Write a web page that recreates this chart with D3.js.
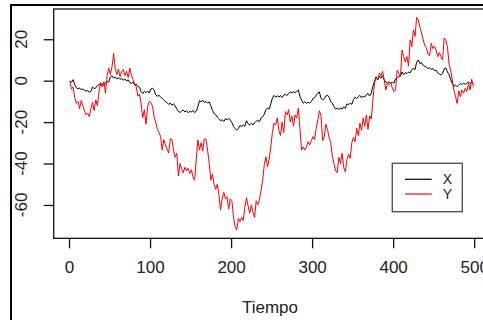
<!DOCTYPE html>
<html>
<head>
<meta charset="utf-8">
<script src="https://cdn.jsdelivr.net/npm/d3@7"></script>
<style>
  html, body { margin: 0; padding: 0; background: #fff; }
  svg { display: block; }
  text { font-family: "Liberation Sans", Arial, sans-serif; fill: #222; }
</style>
</head>
<body>
<svg id="chart" width="483" height="320"></svg>
<script>
// Two random-walk series sampled every 2 steps (t = 1, 3, 5, ..., 499)
const serieX = [
  0, -0.8, 0.5, -1.8, -3.4,
  -3.9, -3.5, -4.4, -4.0, -4.6,
  -5.1, -4.7, -5.6, -5.2, -3.0,
  -3.9, -3.5, -2.4, -1.8, -2.3,
  -1.6, -2.2, -0.9, -0.4, -0.7,
  1.8, 2.4, 1.3, 1.7, 0.9,
  1.4, 0.6, 1.1, 0.2, 0.8,
  -0.2, 0.4, -0.9, -1.4, -0.6,
  -2.1, -1.7, -2.8, -3.2, -5.3,
  -6.2, -5.1, -5.8, -5.0, -6.0,
  -4.0, -3.6, -4.6, -6.9, -7.5,
  -7.1, -7.8, -8.6, -9.4, -10.1,
  -10.6, -11.5, -10.8, -11.9, -11.2,
  -12.3, -13.6, -14.9, -15.3, -14.6,
  -14.2, -15.1, -14.4, -15.5, -14.8,
  -15.2, -14.3, -15.4, -14.7, -12.6,
  -9.6, -10.2, -9.4, -10.6, -10.1,
  -10.7, -10.3, -12.1, -14.3, -15.9,
  -16.4, -17.6, -18.3, -19.4, -18.8,
  -19.7, -18.4, -18.9, -18.1, -19.0,
  -20.3, -22.1, -23.2, -23.9, -23.1,
  -21.6, -22.2, -21.4, -22.0, -19.3,
  -20.8, -21.3, -20.6, -21.4, -20.4,
  -19.6, -19.2, -19.8, -18.0, -17.4,
  -16.2, -14.0, -13.2, -13.8, -11.2,
  -8.4, -7.1, -8.0, -7.3, -7.9,
  -7.2, -8.1, -7.0, -6.6, -7.2,
  -6.1, -5.4, -5.9, -5.3, -5.8,
  -5.2, -4.5, -7.6, -9.4, -10.9,
  -10.2, -11.0, -10.4, -10.9, -10.1,
  -8.6, -8.2, -7.1, -6.0, -5.4,
  -8.6, -9.3, -8.7, -7.4, -7.0,
  -8.0, -10.2, -10.9, -12.6, -13.8,
  -13.2, -14.0, -13.1, -13.8, -12.7,
  -13.4, -11.2, -11.6, -10.9, -11.4,
  -9.2, -8.0, -8.7, -7.8, -7.1,
  -8.3, -7.4, -7.9, -6.8, -6.2,
  -7.4, -6.0, -2.8, -0.2, 1.8,
  0.4, 2.2, 1.2, 2.4, 0.3,
  -0.6, -1.2, -0.5, -1.3, -0.8,
  -1.2, 0.9, 1.4, 1.9, 2.4,
  4.2, 2.9, 3.9, 3.4, 4.2,
  3.8, 5.4, 5.9, 5.3, 8.9,
  10.0, 8.2, 8.7, 7.4, 7.0,
  6.6, 5.8, 6.3, 5.4, 5.9,
  4.8, 5.1, 3.9, 3.2, 2.8,
  3.4, 5.8, 6.1, 4.2, 2.9,
  0.6, -1.4, -2.8, -2.1, -2.9,
  -2.2, -1.4, -1.9, -1.1, -1.8,
  -1.2, -0.6, -1.4, -0.7, -1.2
];

const serieY = [
  -0.3, -4, -3, -8, -11,
  -10, -13.5, -9.6, -12, -14.5,
  -16.5, -15.8, -17.4, -13.5, -10.4,
  -14.5, -9.3, -12, -5.3, -0.8,
  -3, -0.5, -6, 2.5, 6,
  3, 6.5, 13.2, 6, 3,
  5.5, 2, 4.5, 5.4, 2.5,
  4.5, 1.5, 6.1, 2.5, 0.5,
  -1.6, -3, -7.5, -6.5, -11.4,
  -17.8, -14, -21, -12.5, -10,
  -10.5, -12.3, -17.5, -20, -23.5,
  -25, -27, -33.5, -28.5, -31,
  -33, -35, -28, -28.6, -33.5,
  -37, -35, -46, -40, -42.5,
  -44.5, -41.8, -43.5, -42.3, -44.8,
  -43, -46.5, -48, -38, -28.6,
  -33.5, -30, -34, -28, -28.3,
  -33.5, -40, -48, -45, -50,
  -52.5, -50, -55, -62.5, -57,
  -54, -57, -56, -62, -57,
  -58, -66, -70.5, -72, -66.5,
  -68, -66, -67.5, -61, -56.5,
  -60.5, -64, -60, -63.5, -66,
  -58, -60, -57.5, -53, -48,
  -40.5, -36.7, -41.5, -38, -32,
  -25, -20.5, -21.4, -18, -24,
  -26.5, -20, -25, -15, -16.6,
  -14, -20, -17, -22, -16.5,
  -18, -13.3, -23, -33.5, -32,
  -33.5, -32, -29.5, -31, -29,
  -27, -28.5, -23, -19, -14.5,
  -17, -29, -27, -21, -23.5,
  -27.5, -30, -36.5, -40, -43.5,
  -44.5, -37, -40, -35, -42,
  -44, -38, -35.5, -37.5, -30,
  -27.5, -29.5, -23, -26.5, -20.5,
  -24, -18, -22, -16.5, -23.5,
  -17, -18.5, -9.5, -1.3, 2,
  0.5, 3.6, 2.3, 4.5, 0.3,
  -4.5, -1.2, -2, -1, -3.5,
  -5.3, -4.5, 5, 3.5, 2,
  14.8, 11.6, 9, 11.6, 7,
  19.7, 16.4, 24.5, 21.3, 30.5,
  29.3, 26, 23, 20, 17,
  16, 13, 12, 18, 15.5,
  16.5, 14.8, 11.6, 13.5, 11.6,
  10, 20.6, 19.7, 16.4, 8,
  5, 0.3, -4.5, -7.7, -11,
  -5, -7.7, -4.5, -6, -3.7,
  -5.2, -1.3, -4.5, 0.7, -2.9
];

const tiempo = d3.range(1, 500, 2);          // time index of each sample
const xTicks = [0, 100, 200, 300, 400, 500];
const yTicks = [-60, -40, -20, 0, 20];
const seriesNames = ["X", "Y"];
const seriesColors = ["#000000", "#ff0000"];
const xLabel = "Tiempo";

// plot region (device box of the plotting area)
const plot = { left: 53.7, top: 9, right: 489.5, bottom: 238.3 };

const svg = d3.select("#chart");

// outer frame
svg.append("path")
  .attr("d", "M11,330 L11,5 L495,5")
  .attr("fill", "none")
  .attr("stroke", "#000")
  .attr("stroke-width", 2);

// axis ranges padded by 4% on each side
const tExt = d3.extent(tiempo);
const tPad = (tExt[1] - tExt[0]) * 0.04;
const vExt = d3.extent(serieX.concat(serieY));
const vPad = (vExt[1] - vExt[0]) * 0.04;

const x = d3.scaleLinear()
  .domain([tExt[0] - tPad, tExt[1] + tPad])
  .range([plot.left, plot.right]);
const y = d3.scaleLinear()
  .domain([vExt[0] - vPad, vExt[1] + vPad])
  .range([plot.bottom, plot.top]);

// series lines
const line = d3.line()
  .x((d, i) => x(tiempo[i]))
  .y(d => y(d));

[serieX, serieY].forEach((s, k) => {
  svg.append("path")
    .datum(s)
    .attr("fill", "none")
    .attr("stroke", seriesColors[k])
    .attr("stroke-width", 1)
    .attr("stroke-linejoin", "round")
    .attr("d", line);
});

// plot box
svg.append("rect")
  .attr("x", plot.left)
  .attr("y", plot.top)
  .attr("width", plot.right - plot.left)
  .attr("height", plot.bottom - plot.top)
  .attr("fill", "none")
  .attr("stroke", "#111")
  .attr("stroke-width", 1.3);

// x axis
const gx = svg.append("g")
  .attr("transform", `translate(0,${plot.bottom})`)
  .call(d3.axisBottom(x).tickValues(xTicks).tickSize(10).tickPadding(13).tickFormat(d3.format("d")));
gx.select(".domain").remove();
gx.selectAll(".tick line").attr("stroke", "#111").attr("stroke-width", 1.3);
gx.selectAll(".tick text")
  .attr("font-size", 17)
  .attr("font-family", "'Liberation Sans', Arial, sans-serif")
  .attr("fill", "#222");

// y axis (labels rotated, parallel to the axis)
const gy = svg.append("g")
  .attr("transform", `translate(${plot.left},0)`)
  .call(d3.axisLeft(y).tickValues(yTicks).tickSize(10).tickFormat(""));
gy.select(".domain").remove();
gy.selectAll(".tick line").attr("stroke", "#111").attr("stroke-width", 1.3);

svg.append("g").selectAll("text")
  .data(yTicks)
  .join("text")
  .attr("transform", d => `translate(27,${y(d)}) rotate(-90)`)
  .attr("text-anchor", "middle")
  .attr("font-size", 17)
  .text(d => d);

// x axis title
svg.append("text")
  .attr("x", 270)
  .attr("y", 313)
  .attr("text-anchor", "middle")
  .attr("font-size", 17)
  .text(xLabel);

// legend
const legend = svg.append("g").attr("transform", "translate(392.3,163.3)");
legend.append("rect")
  .attr("width", 70)
  .attr("height", 48.4)
  .attr("fill", "#fff")
  .attr("stroke", "#555")
  .attr("stroke-width", 1.4);
seriesNames.forEach((name, k) => {
  const ly = 16 + k * 14.7;
  legend.append("line")
    .attr("x1", 12.7).attr("x2", 39.4)
    .attr("y1", ly).attr("y2", ly)
    .attr("stroke", seriesColors[k])
    .attr("stroke-width", 1.2);
  legend.append("text")
    .attr("x", 50.5)
    .attr("y", ly + 5)
    .attr("font-size", 14)
    .text(name);
});
</script>
</body>
</html>
